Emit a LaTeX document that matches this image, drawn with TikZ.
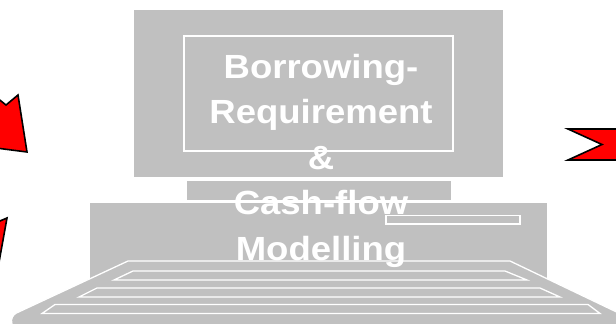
\documentclass[tikz,border=0pt]{standalone}
\usepackage{fontspec}
\newfontfamily\labelfont[FakeStretch=1.09]{Liberation Sans}
\definecolor{silver}{RGB}{192,192,192}
\begin{document}
\begin{tikzpicture}[x=1pt,y=-1pt,
  part/.style={fill=silver,draw=white,line width=1.3pt},
  keyrow/.style={draw=white,line width=1.3pt,line join=miter},
  redarrow/.style={fill=red,draw=black,line width=1.6pt,line join=miter},
  caption/.style={text=white,align=center,inner sep=0pt,
    font=\labelfont\bfseries\fontsize{33.5}{45.5}\selectfont}]
  \useasboundingbox (0,0) rectangle (616,324);
  \clip (0,0) rectangle (616,324);

  % monitor housing and screen frame
  \draw[part] (133,9.3) rectangle (504,177.3);
  \draw[keyrow] (184,36) rectangle (453,151);
  % neck and desktop case
  \draw[part] (186,180) rectangle (452,201);
  \draw[part] (89,202.7) rectangle (548,290);
  % drive slot
  \draw[keyrow] (386,215.5) rectangle (520,224);

  % keyboard
  \draw[part] (128,261) -- (510,261) -- (625,316) -- (624,332) -- (14,332)
    [rounded corners=7pt] -- (10,316) [sharp corners] -- cycle;
  \draw[keyrow] (133,271) -- (505,271) -- (527,280) -- (114,280) -- cycle;
  \draw[keyrow] (97,288) -- (540,288) -- (560,297) -- (79,297) -- cycle;
  \draw[keyrow] (55,304.5) -- (588,304.5) -- (600,313.5) -- (42,313.5) -- cycle;

  % title text, anchored on the baseline of its last line
  \node[caption,anchor=base] (title) at (321,260)
    {Borrowing-\\Requirement\\\&\\Cash-flow\\Modelling};

  % red block arrows at the edges
  \draw[redarrow] (-4,97) -- (6,105) -- (18,95) -- (27,152) -- (-4,148) -- cycle;
  \draw[redarrow] (-12,226) -- (7,218) -- (-6,290) -- cycle;
  \draw[redarrow] (630,129) -- (568,129) -- (602,144.5) -- (568,160) -- (630,160) -- cycle;
\end{tikzpicture}
\end{document}
